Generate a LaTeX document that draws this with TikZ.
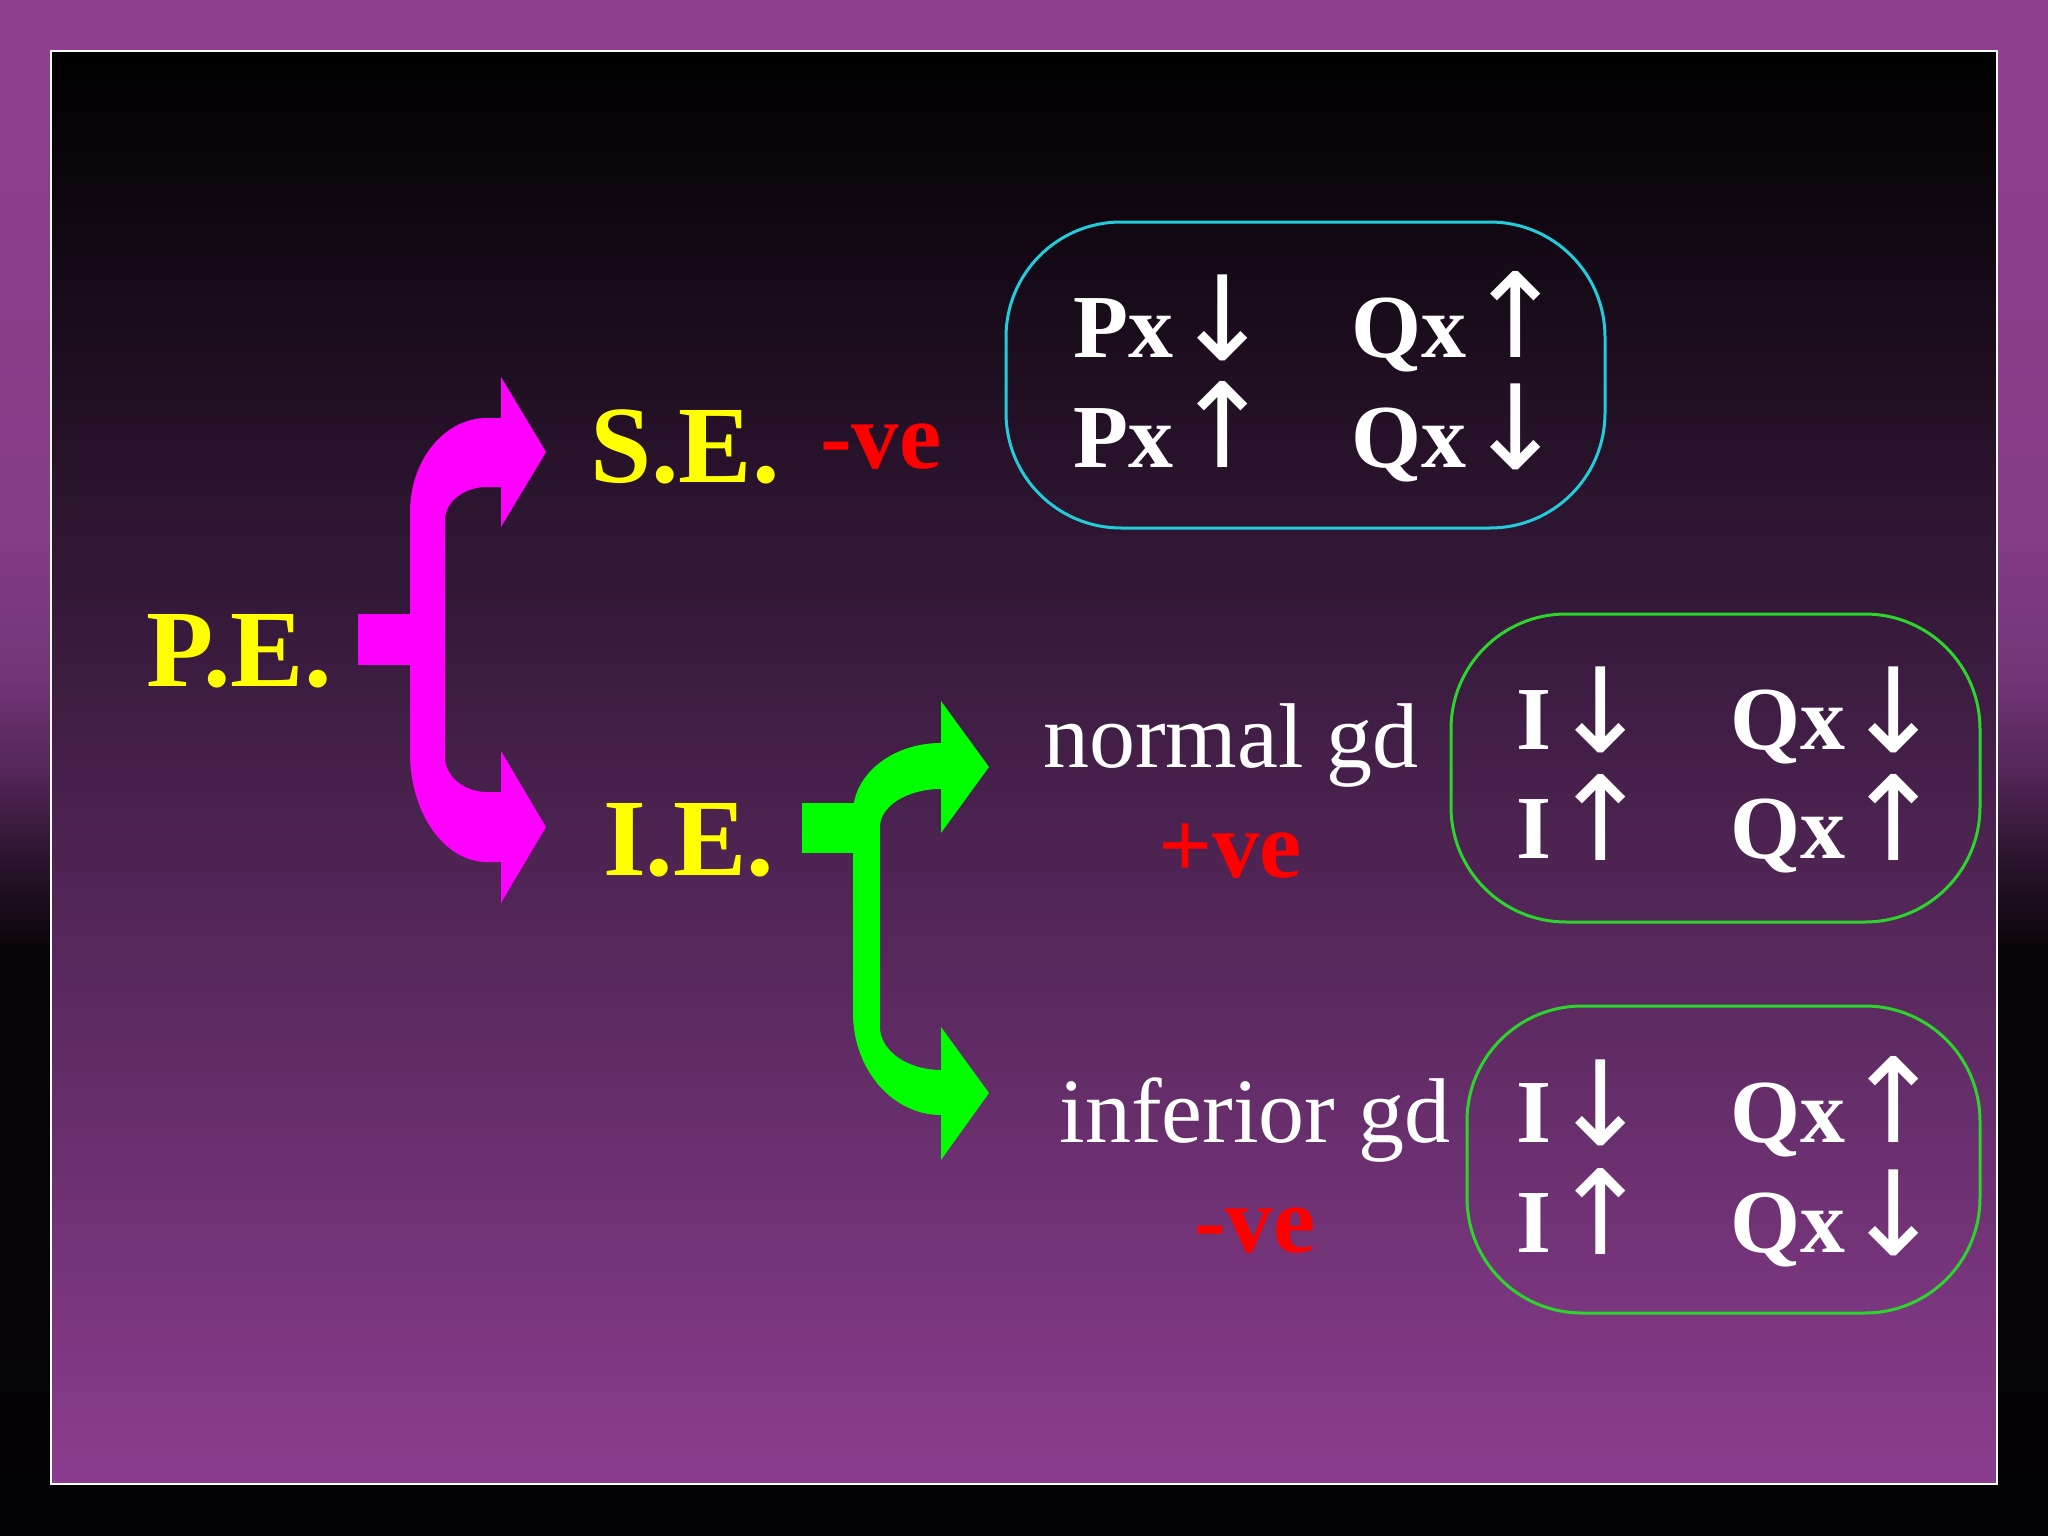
\documentclass[tikz,border=0pt]{standalone}
\usepackage{fontspec}
\usepackage{graphicx}
\setmainfont{Liberation Serif}
\newfontfamily\arrowfont{DejaVu Sans}
\definecolor{obA}{HTML}{030205}
\definecolor{obB}{HTML}{080408}
\definecolor{obC}{HTML}{2A142C}
\definecolor{obD}{HTML}{55275A}
\definecolor{obE}{HTML}{733578}
\definecolor{obG}{HTML}{853D87}
\definecolor{obF}{HTML}{913F90}
\definecolor{ibBot}{HTML}{8B3D8F}
\definecolor{ibMid}{HTML}{45204A}
\definecolor{yellowT}{HTML}{FFFF00}
\definecolor{redT}{HTML}{FF0000}
\definecolor{magentaA}{HTML}{FF00FF}
\definecolor{greenA}{HTML}{00FF00}
\definecolor{cyanBox}{HTML}{22CCDA}
\definecolor{greenBox}{HTML}{2CD52C}
\pgfdeclareverticalshading{outerbg}{100bp}{color(0bp)=(obA); color(25bp)=(obA); color(44bp)=(obB); color(47bp)=(obC); color(50bp)=(obD); color(53bp)=(obE); color(58bp)=(obG); color(75bp)=(obF); color(100bp)=(obF)}
\pgfdeclareverticalshading{innerbg}{100bp}{color(0bp)=(ibBot); color(25bp)=(ibBot); color(50bp)=(ibMid); color(75bp)=(black); color(100bp)=(black)}
\newcommand{\dnarr}{\resizebox*{!}{86pt}{\arrowfont ↓}}
\newcommand{\uparr}{\resizebox*{!}{86pt}{\arrowfont ↑}}
\tikzset{
  heading/.style={font=\fontsize{110}{120}\selectfont\bfseries, text=yellowT, inner sep=0pt, anchor=base west},
  sign/.style={font=\fontsize{95}{100}\selectfont\bfseries, text=redT, inner sep=0pt},
  goodlbl/.style={font=\fontsize{92}{100}\selectfont, text=white, inner sep=0pt, anchor=base},
  cell/.style={font=\fontsize{90}{100}\selectfont\bfseries, text=white, inner sep=0pt, anchor=base west},
  arr/.style={inner sep=0pt, anchor=south, text=white},
  rbox/.style={draw=#1, line width=3pt, rounded corners=115pt, inner sep=0pt, fill=none},
}
\begin{document}
\begin{tikzpicture}[x=1pt,y=-1pt]
\useasboundingbox (0,0) rectangle (2048,1536);
\shade[shading=outerbg] (0,0) rectangle (2048,1536);
\shadedraw[shading=innerbg, draw=white, line width=2.5pt] (51,51) rectangle (1997,1484);

% magenta branching arrow
\fill[magentaA] (358,614) rectangle (430,665);
\fill[magentaA] (501,418) -- (487,418) .. controls (444.5,418) and (410,460.1) .. (410,512)
  -- (410,753) .. controls (410,813.2) and (444.5,862) .. (487,862)
  -- (501,862) -- (501,903) -- (546,827) -- (501,751) -- (501,792) -- (487,792)
  .. controls (463.8,792) and (445,776.3) .. (445,757)
  -- (445,520) .. controls (445,501.8) and (463.8,487) .. (487,487)
  -- (501,487) -- (501,527) -- (546,452) -- (501,377) -- cycle;

% green branching arrow
\fill[greenA] (802,803) rectangle (870,853);
\fill[greenA] (941,743) .. controls (892.4,743) and (853,774.3) .. (853,813)
  -- (853,1013) .. controls (853,1069.3) and (892.4,1115) .. (941,1115)
  -- (941,1160) -- (989,1093) -- (941,1027) -- (941,1070)
  .. controls (907.3,1070) and (880,1050.7) .. (880,1027)
  -- (880,827) .. controls (880,806) and (907.3,789) .. (941,789)
  -- (941,833) -- (989,767) -- (941,701) -- cycle;

% labels
\node[heading] (pe) at (146,686) {P.E.};
\node[heading] (se) at (590,482) {S.E.};
\node[sign, anchor=base west] (seSign) at (820,468) {-ve};
\node[heading] (ie) at (603,875) {I.E.};
\node[goodlbl] (normal) at (1231,767) {normal gd};
\node[sign, anchor=base] (normalSign) at (1230,877) {+ve};
\node[goodlbl] (inferior) at (1255,1142) {inferior gd};
\node[sign, anchor=base] (infSign) at (1255,1252) {-ve};

% box 1
\node[rbox=cyanBox, minimum width=599pt, minimum height=306pt] (b1) at (1305.5,375) {};
\node[cell] (b1a) at (1073,357) {Px};
\node[arr] (b1aa) at (1223,361) {\dnarr};
\node[cell] (b1b) at (1351,357) {Qx};
\node[arr] (b1ba) at (1516,358) {\uparr};
\node[cell] (b1c) at (1073,467) {Px};
\node[arr] (b1ca) at (1223,468) {\uparr};
\node[cell] (b1d) at (1351,467) {Qx};
\node[arr] (b1da) at (1516,470) {\dnarr};

% box 2
\node[rbox=greenBox, minimum width=529pt, minimum height=308pt] (b2) at (1715.5,768) {};
\node[cell] (b2a) at (1516,749) {I};
\node[arr] (b2aa) at (1601,753) {\dnarr};
\node[cell] (b2b) at (1730,749) {Qx};
\node[arr] (b2ba) at (1894,753) {\dnarr};
\node[cell] (b2c) at (1516,858) {I};
\node[arr] (b2ca) at (1601,861) {\uparr};
\node[cell] (b2d) at (1730,858) {Qx};
\node[arr] (b2da) at (1894,861) {\uparr};

% box 3
\node[rbox=greenBox, minimum width=513pt, minimum height=307pt] (b3) at (1723.5,1159.5) {};
\node[cell] (b3a) at (1516,1142) {I};
\node[arr] (b3aa) at (1601,1146) {\dnarr};
\node[cell] (b3b) at (1730,1142) {Qx};
\node[arr] (b3ba) at (1894,1143) {\uparr};
\node[cell] (b3c) at (1516,1252) {I};
\node[arr] (b3ca) at (1601,1255) {\uparr};
\node[cell] (b3d) at (1730,1252) {Qx};
\node[arr] (b3da) at (1894,1256) {\dnarr};
\end{tikzpicture}
\end{document}
